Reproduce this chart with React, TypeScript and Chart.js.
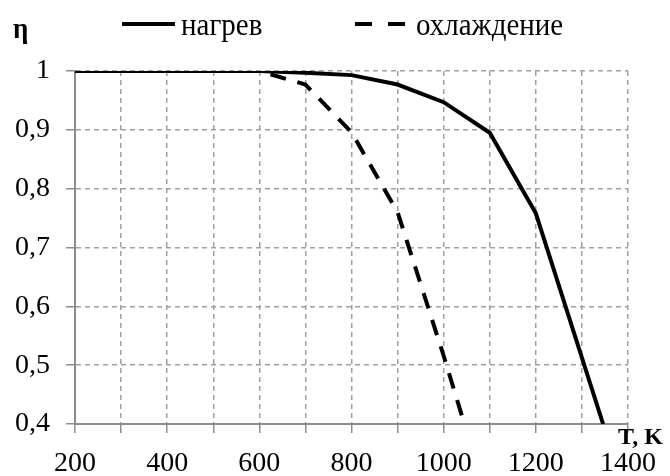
import React, { useEffect, useRef } from "react";
import { Chart, registerables } from "chart.js";

Chart.register(...registerables);

const heatT = [200, 300, 400, 500, 600, 700, 800, 900, 1000, 1100, 1200, 1346];
const heatEta = [1.0, 1.0, 1.0, 1.0, 1.0, 0.997, 0.993, 0.977, 0.947, 0.895, 0.758, 0.4];

const coolT = [200, 300, 400, 500, 600, 700, 800, 900, 1000, 1045];
const coolEta = [1.0, 1.0, 1.0, 1.0, 1.0, 0.977, 0.896, 0.76, 0.516, 0.4];

const seriesNames = ["нагрев", "охлаждение"];
const yAxisTitle = "η";
const xAxisTitle = "T, K";

const FONT = "'Liberation Serif', 'Times New Roman', serif";

const overlayPlugin = {
  id: "overlay",
  afterDraw(chart: any) {
    const ctx = chart.ctx as CanvasRenderingContext2D;
    ctx.save();
    ctx.fillStyle = "#000";
    ctx.strokeStyle = "#000";
    ctx.lineWidth = 4;
    // legend: solid
    ctx.setLineDash([]);
    ctx.beginPath();
    ctx.moveTo(122, 24);
    ctx.lineTo(175, 24);
    ctx.stroke();
    ctx.setLineDash([17, 16]);
    ctx.beginPath();
    ctx.moveTo(355, 24);
    ctx.lineTo(405, 24);
    ctx.stroke();
    ctx.setLineDash([]);
    // legend text (slightly tall glyphs like the reference)
    ctx.font = `29px ${FONT}`;
    ctx.textBaseline = "alphabetic";
    ctx.textAlign = "left";
    ctx.save();
    ctx.translate(0, 35);
    ctx.scale(1, 1.12);
    ctx.fillText(seriesNames[0], 181, 0);
    ctx.fillText(seriesNames[1], 416, 0);
    ctx.restore();
    // axis titles
    ctx.save();
    ctx.font = `bold 27px ${FONT}`;
    ctx.translate(0, 38);
    ctx.scale(1, 1.12);
    ctx.fillText(yAxisTitle, 13, 0);
    ctx.restore();
    ctx.font = `bold 24px ${FONT}`;
    ctx.fillText(xAxisTitle, 618, 444);
    ctx.restore();
  },
};

export default function App() {
  const ref = useRef<HTMLCanvasElement | null>(null);
  useEffect(() => {
    document.body.style.margin = "0";
    const canvas = ref.current!;
    const chart = new Chart(canvas, {
      type: "line",
      data: {
        datasets: [
          {
            label: seriesNames[0],
            data: heatT.map((t, i) => ({ x: t, y: heatEta[i] })),
            borderColor: "#000",
            borderWidth: 4,
            pointRadius: 0,
            tension: 0,
            fill: false,
          },
          {
            label: seriesNames[1],
            data: coolT.map((t, i) => ({ x: t, y: coolEta[i] })),
            borderColor: "#000",
            borderWidth: 4,
            borderDash: [16, 12],
            pointRadius: 0,
            tension: 0,
            fill: false,
          },
        ],
      },
      options: {
        animation: false,
        responsive: false,
        maintainAspectRatio: false,
        layout: { padding: { top: 71, right: 38, left: 0, bottom: 0 } },
        plugins: { legend: { display: false }, tooltip: { enabled: false } },
        scales: {
          x: {
            type: "linear",
            min: 200,
            max: 1400,
            afterFit: (s: any) => {
              s.height = 52;
            },
            ticks: {
              stepSize: 100,
              autoSkip: false,
              maxRotation: 0,
              padding: 14,
              color: "#000",
              font: { family: FONT, size: 28 },
              callback: (v: any) => (Number(v) % 200 === 0 ? String(v) : ""),
            },
            grid: {
              color: "#a0a0a0",
              lineWidth: 1.5,
              tickLength: 9,
              tickColor: "#8c8c8c",
              tickBorderDash: [],
            },
            border: { color: "#8c8c8c", width: 2, dash: [5, 4] },
          },
          y: {
            type: "linear",
            min: 0.4,
            max: 1,
            afterFit: (s: any) => {
              s.width = 75;
            },
            ticks: {
              stepSize: 0.1,
              padding: 16,
              color: "#000",
              font: { family: FONT, size: 28 },
              callback: (v: any) => {
                const n = Math.round(Number(v) * 10) / 10;
                return n === 1 ? "1" : n.toFixed(1).replace(".", ",");
              },
            },
            grid: {
              color: "#a0a0a0",
              lineWidth: 1.5,
              tickLength: 9,
              tickColor: "#8c8c8c",
              tickBorderDash: [],
            },
            border: { color: "#8c8c8c", width: 2, dash: [5, 4] },
          },
        },
      },
      plugins: [overlayPlugin],
    });
    return () => chart.destroy();
  }, []);
  return (
    <div style={{ width: 670, height: 476, background: "#fff" }}>
      <canvas ref={ref} width={670} height={476} style={{ display: "block" }} />
    </div>
  );
}
